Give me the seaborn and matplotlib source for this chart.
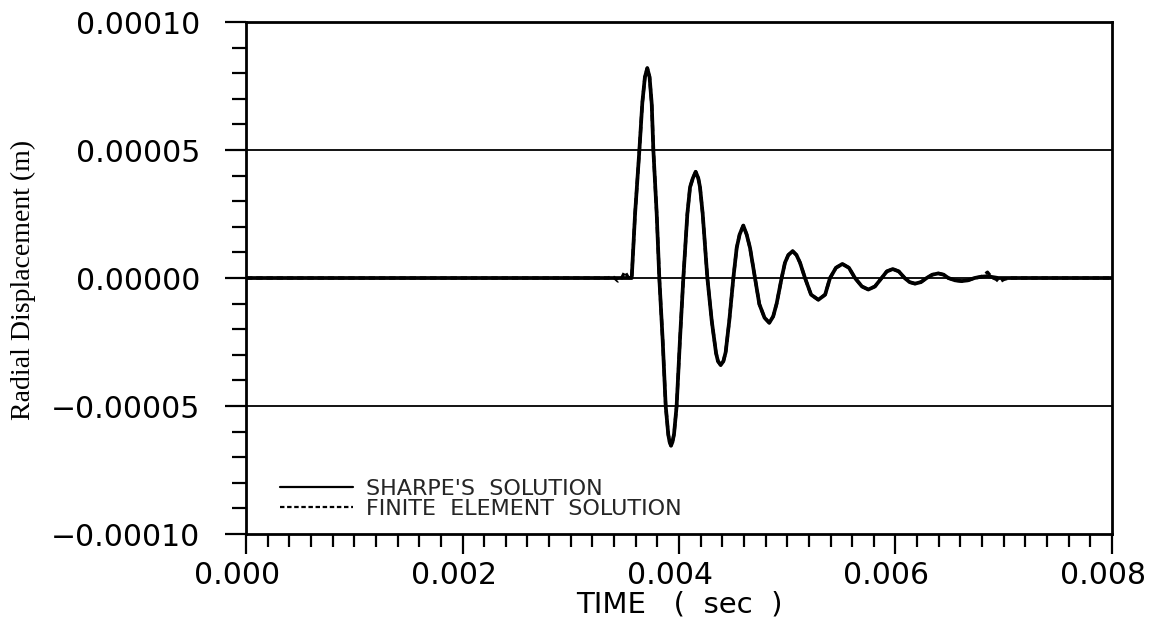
import numpy as np
import pandas as pd
import matplotlib
matplotlib.use("Agg")
import matplotlib.pyplot as plt
from matplotlib.ticker import MultipleLocator, FuncFormatter
from matplotlib.transforms import ScaledTranslation
import seaborn as sns

# Radial displacement history (time in ms, displacement in micrometres)
sharpe_t_ms = [0.0, 3.45, 3.563, 3.594, 3.634, 3.661, 3.685, 3.707, 3.728, 3.748, 3.763,
               3.794, 3.818, 3.849, 3.877, 3.901, 3.913, 3.926, 3.940, 3.954, 3.978,
               4.009, 4.040, 4.077, 4.102, 4.128, 4.154, 4.178, 4.194, 4.219, 4.262,
               4.302, 4.342, 4.360, 4.385, 4.410, 4.431, 4.465, 4.502, 4.533, 4.560,
               4.594, 4.625, 4.656, 4.702, 4.742, 4.790, 4.834, 4.870, 4.902, 4.948,
               4.979, 5.010, 5.050, 5.085, 5.118, 5.164, 5.220, 5.287, 5.350, 5.395,
               5.450, 5.509, 5.570, 5.626, 5.690, 5.749, 5.810, 5.872, 5.920, 5.975,
               6.030, 6.085, 6.130, 6.180, 6.235, 6.288, 6.340, 6.396, 6.445, 6.488,
               6.550, 6.611, 6.670, 6.730, 6.790, 6.850, 6.950, 7.100, 8.000]
sharpe_u_um = [0.0, 0.0, 0.0, 25.0, 50.0, 68.4, 78.5, 82.0, 78.5, 68.0, 50.0,
               25.0, 0.0, -24.2, -50.0, -61.2, -64.0, -65.5, -64.0, -61.0, -50.0,
               -24.0, 0.0, 25.0, 35.5, 39.0, 41.5, 39.0, 35.5, 25.0, 0.0,
               -16.6, -29.3, -32.5, -34.0, -32.5, -29.0, -16.5, 0.0, 11.8, 17.0,
               20.5, 17.0, 11.8, 0.0, -10.2, -15.5, -17.5, -15.0, -10.0, 0.0,
               6.0, 9.0, 10.5, 9.0, 6.0, 0.0, -6.5, -8.5, -6.5, 0.0,
               4.0, 5.5, 4.0, 0.0, -3.3, -4.5, -3.3, 0.0, 2.6, 3.5,
               2.6, 0.0, -1.6, -2.2, -1.6, 0.0, 1.3, 1.8, 1.3, 0.0,
               -0.9, -1.2, -0.9, 0.0, 0.5, 0.7, 0.0, 0.0, 0.0]

fe_t_ms = [0.0, 3.35, 3.378, 3.405, 3.436, 3.470, 3.500, 3.530, 3.550, 3.563, 3.594,
           3.634, 3.661, 3.685, 3.707, 3.728, 3.748, 3.763, 3.794, 3.818, 3.849,
           3.877, 3.901, 3.913, 3.926, 3.940, 3.954, 3.978, 4.009, 4.040, 4.077,
           4.102, 4.128, 4.154, 4.178, 4.194, 4.219, 4.262, 4.302, 4.342, 4.360,
           4.385, 4.410, 4.431, 4.465, 4.502, 4.533, 4.560, 4.594, 4.625, 4.656,
           4.702, 4.742, 4.790, 4.834, 4.870, 4.902, 4.948, 4.979, 5.010, 5.050,
           5.085, 5.118, 5.164, 5.220, 5.287, 5.350, 5.395, 5.450, 5.509, 5.570,
           5.626, 5.690, 5.749, 5.810, 5.872, 5.920, 5.975, 6.030, 6.085, 6.130,
           6.180, 6.235, 6.288, 6.340, 6.396, 6.445, 6.488, 6.550, 6.611, 6.670,
           6.730, 6.790, 6.850, 6.890, 6.930, 6.960, 7.000, 7.050, 7.200, 8.000]
fe_u_um = [0.0, 0.0, 0.8, 0.0, -1.2, 0.0, 2.5, 0.3, 0.0, 0.0, 25.0,
           50.0, 68.4, 78.5, 82.0, 78.5, 68.0, 50.0, 25.0, 0.0, -24.2,
           -50.0, -61.2, -64.0, -65.5, -64.0, -61.0, -50.0, -24.0, 0.0, 25.0,
           35.5, 39.0, 41.5, 39.0, 35.5, 25.0, 0.0, -16.6, -29.3, -32.5,
           -34.0, -32.5, -29.0, -16.5, 0.0, 11.8, 17.0, 20.5, 17.0, 11.8,
           0.0, -10.2, -15.5, -17.5, -15.0, -10.0, 0.0, 6.0, 9.0, 10.5,
           9.0, 6.0, 0.0, -6.5, -8.5, -6.5, 0.0, 4.0, 5.5, 4.0,
           0.0, -3.3, -4.5, -3.3, 0.0, 2.6, 3.5, 2.6, 0.0, -1.6,
           -2.2, -1.6, 0.0, 1.3, 1.8, 1.3, 0.0, -0.9, -1.2, -0.9,
           0.0, 0.4, 2.3, 0.2, -0.5, -1.6, -0.6, 0.0, 0.0, 0.0]

x_ticks = [0.000, 0.002, 0.004, 0.006, 0.008]
y_ticks = [-0.00010, -0.00005, 0.00000, 0.00005, 0.00010]
series_labels = ["SHARPE'S  SOLUTION", "FINITE  ELEMENT  SOLUTION"]

sharpe = pd.DataFrame({"t": np.array(sharpe_t_ms) * 1e-3, "u": np.array(sharpe_u_um) * 1e-6})
fe = pd.DataFrame({"t": np.array(fe_t_ms) * 1e-3, "u": np.array(fe_u_um) * 1e-6})

sns.set_theme(style="ticks")
plt.rcParams["font.family"] = ["DejaVu Sans"]

fig = plt.figure(figsize=(11.6, 6.31), dpi=100)
ax = fig.add_axes([0.2121, 0.1537, 0.9586 - 0.2121, 0.9651 - 0.1537])

# reference lines at the major displacement levels
for yv in y_ticks[1:-1]:
    ax.axhline(yv, color="black", lw=1.3, zorder=1)

sns.lineplot(data=sharpe, x="t", y="u", ax=ax, color="black", lw=2.7,
             label=series_labels[0], sort=False, estimator=None, zorder=3)
sns.lineplot(data=fe, x="t", y="u", ax=ax, color="black", lw=2.3,
             linestyle=(0, (2.0, 1.2)), label=series_labels[1], sort=False,
             estimator=None, zorder=4)

ax.set_xlim(x_ticks[0], x_ticks[-1])
ax.set_ylim(y_ticks[0], y_ticks[-1])
ax.set_xticks(x_ticks)
ax.set_yticks(y_ticks)
ax.xaxis.set_minor_locator(MultipleLocator(0.0002))
ax.yaxis.set_minor_locator(MultipleLocator(0.00001))
ax.xaxis.set_major_formatter(FuncFormatter(lambda v, p: f"{v:.3f}"))
ax.yaxis.set_major_formatter(FuncFormatter(
    lambda v, p: ("\u2212" if v < -1e-12 else "") + f"{abs(v):.5f}"))

for s in ax.spines.values():
    s.set_linewidth(2.0)
    s.set_color("black")
    s.set_visible(True)

ax.tick_params(axis="x", which="major", direction="out", length=14.5, width=1.6,
               color="black", labelsize=21.5, labelcolor="black", pad=5)
ax.tick_params(axis="x", which="minor", direction="out", length=9.5, width=1.6,
               color="black")
ax.tick_params(axis="y", which="major", direction="out", length=15, width=1.6,
               color="black", labelsize=21.5, labelcolor="black", pad=18)
ax.tick_params(axis="y", which="minor", direction="out", length=10, width=1.6,
               color="black")
ax.tick_params(top=False, right=False, which="both")

# x tick labels sit slightly left of their ticks
shift = ScaledTranslation(-9 / 100, 0, fig.dpi_scale_trans)
for lbl in ax.get_xticklabels():
    lbl.set_transform(lbl.get_transform() + shift)

ax.set_xlabel("TIME   (  sec  )", fontsize=21, color="black", labelpad=0)
ax.set_ylabel("Radial Displacement (m)", fontsize=20, color="black",
              family="Liberation Serif")
ax.yaxis.set_label_coords(-0.242, 0.496)

leg = ax.legend(loc="lower left", bbox_to_anchor=(0.039, 0.029), frameon=False,
                fontsize=16, handlelength=3.3, handletextpad=0.6, labelspacing=0.0,
                borderpad=0, borderaxespad=0)
for line in leg.get_lines():
    line.set_linewidth(1.6)

fig.savefig("out.png", dpi=100, facecolor="white")
